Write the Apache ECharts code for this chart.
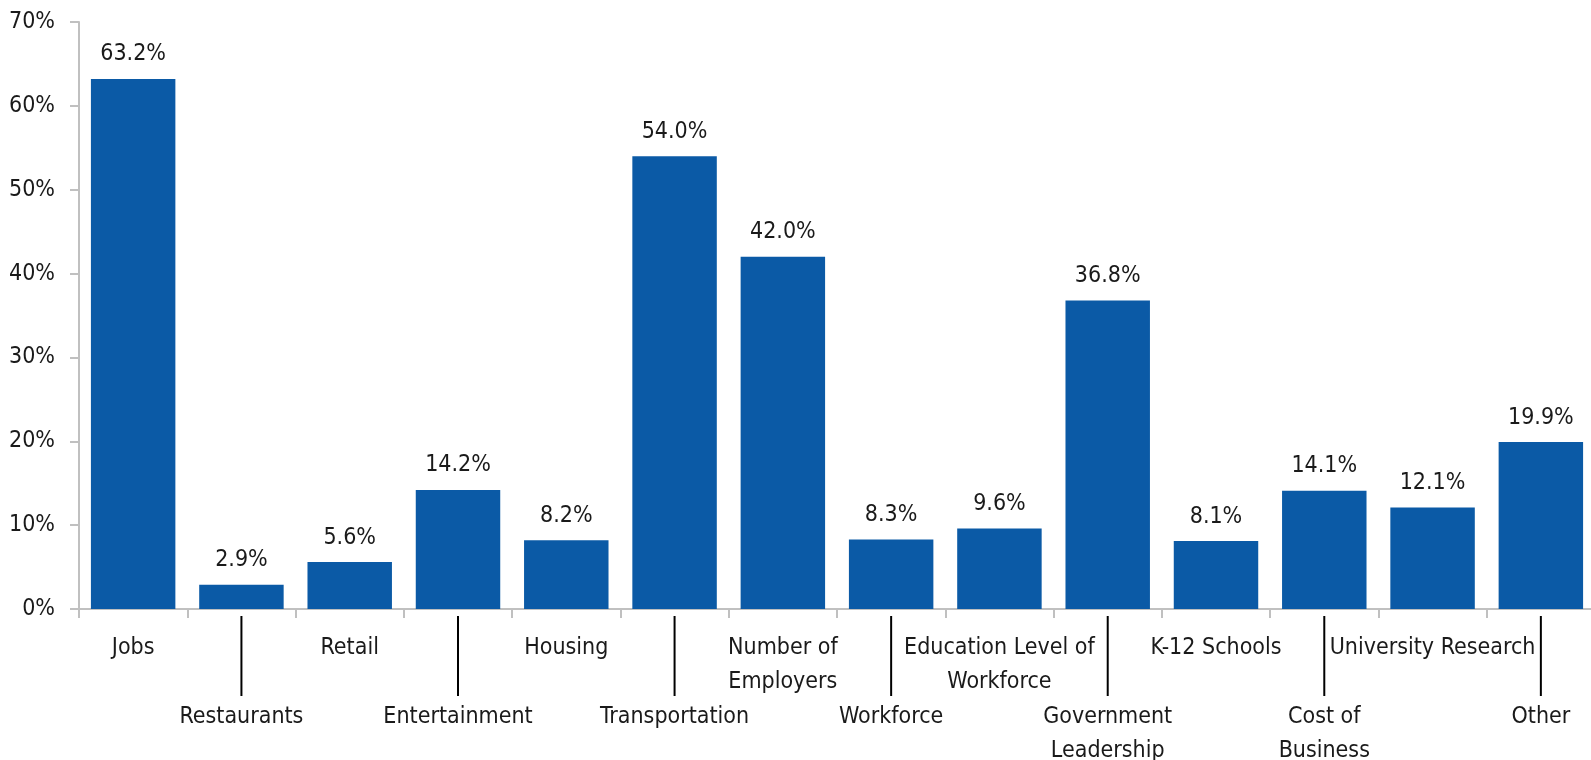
<!DOCTYPE html>
<html>
<head>
<meta charset="utf-8">
<script src="https://cdn.jsdelivr.net/npm/echarts@6/dist/echarts.min.js"></script>
<style>
  html, body { margin: 0; padding: 0; background: #fff; }
  #chart { width: 1591px; height: 760px; }
</style>
</head>
<body>
<div id="chart"></div>
<script>
// categories (\n where the original label wraps)
var categories = ['Jobs', 'Restaurants', 'Retail', 'Entertainment', 'Housing', 'Transportation',
  'Number of\nEmployers', 'Workforce', 'Education Level of\nWorkforce', 'Government\nLeadership',
  'K-12 Schools', 'Cost of\nBusiness', 'University Research', 'Other'];
var shares = [63.2, 2.9, 5.6, 14.2, 8.2, 54.0, 42.0, 8.3, 9.6, 36.8, 8.1, 14.1, 12.1, 19.9];
var yTicks = [0, 10, 20, 30, 40, 50, 60, 70];

var FONT = "'Liberation Sans Narrow', 'Arial Narrow', 'DejaVu Sans Condensed', sans-serif";
var axisGray = '#c0c0c0';

var chart = echarts.init(document.getElementById('chart'));

chart.setOption({
  animation: false,
  textStyle: { fontFamily: FONT },
  grid: {
    left: 79, top: 22, bottom: 151, width: 1516,
    containLabel: false, outerBoundsMode: 'none'
  },
  xAxis: {
    type: 'category',
    data: categories,
    axisLine: { lineStyle: { color: axisGray, width: 2 } },
    axisTick: { show: true, length: 9, lineStyle: { color: axisGray, width: 2 } },
    axisLabel: {
      interval: 0,
      hideOverlap: false,
      margin: 3,
      color: '#1a1a1a',
      fontFamily: FONT,
      fontSize: 23,
      formatter: function (val, idx) {
        var lines = val.split('\n').map(function (s) { return '{t|' + s + '}'; }).join('\n');
        // staggered labels: every second one sits lower, with a leader line
        return idx % 2 === 0 ? '{sp|}\n' + lines : '{l|}\n' + lines;
      },
      rich: {
        t: { fontSize: 23, lineHeight: 34, color: '#1a1a1a', fontFamily: FONT },
        sp: { height: 19, lineHeight: 19 },
        l: { width: 2, height: 80, lineHeight: 88, backgroundColor: '#000' }
      }
    }
  },
  yAxis: {
    type: 'value',
    min: yTicks[0],
    max: yTicks[yTicks.length - 1],
    interval: 10,
    splitLine: { show: false },
    axisLine: { show: true, lineStyle: { color: axisGray, width: 2 } },
    axisTick: { show: true, length: 9, lineStyle: { color: axisGray, width: 2 } },
    axisLabel: {
      margin: 24,
      color: '#1a1a1a',
      fontFamily: FONT,
      fontSize: 23,
      formatter: '{value}%'
    }
  },
  series: [{
    type: 'bar',
    data: shares,
    barCategoryGap: '22%',
    itemStyle: { color: '#0b5aa6' },
    label: {
      show: true,
      position: 'top',
      distance: 13,
      color: '#1a1a1a',
      fontFamily: FONT,
      fontSize: 23,
      formatter: function (p) { return p.value.toFixed(1) + '%'; }
    }
  }]
});
</script>
</body>
</html>
